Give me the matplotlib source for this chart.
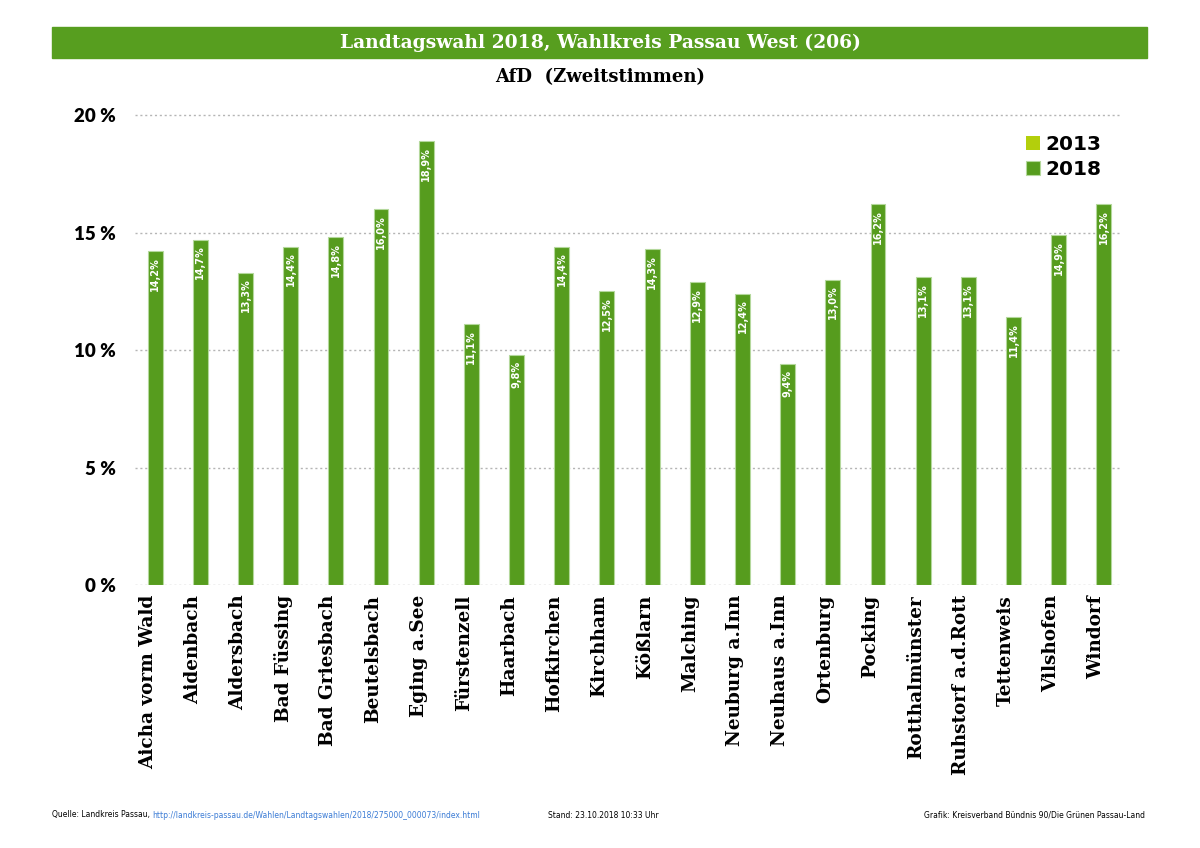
import numpy as np
import matplotlib.pyplot as plt
from matplotlib.patches import Rectangle

# data
orte = ['Aicha vorm Wald', 'Aidenbach', 'Aldersbach', 'Bad Füssing', 'Bad Griesbach',
        'Beutelsbach', 'Eging a.See', 'Fürstenzell', 'Haarbach', 'Hofkirchen', 'Kirchham',
        'Kößlarn', 'Malching', 'Neuburg a.Inn', 'Neuhaus a.Inn', 'Ortenburg', 'Pocking',
        'Rotthalmünster', 'Ruhstorf a.d.Rott', 'Tettenweis', 'Vilshofen', 'Windorf']
afd_2018 = [14.2, 14.7, 13.3, 14.4, 14.8, 16.0, 18.9, 11.1, 9.8, 14.4, 12.5,
            14.3, 12.9, 12.4, 9.4, 13.0, 16.2, 13.1, 13.1, 11.4, 14.9, 16.2]
afd_2013 = [0] * len(orte)  # no 2013 values shown
yticks = [0, 5, 10, 15, 20]

col_2013 = '#b3cf0c'
col_2018 = '#569c1e'

fig = plt.figure(figsize=(12, 8.48), dpi=100)
ax = fig.add_axes([0.1125, 0.3101, 0.8208, 0.5661])

x = np.arange(len(orte))
w = 0.33
ax.bar(x - w / 2, afd_2013, w, color=col_2013, label='2013')
bars = ax.bar(x + w / 2, afd_2018, w, color=col_2018, edgecolor='#b4d89c',
              linewidth=0.8, label='2018', zorder=3)

for b, v in zip(bars, afd_2018):
    ax.text(b.get_x() + b.get_width() / 2, v - 0.25, f'{v:.1f}%'.replace('.', ','),
            rotation=90, ha='center', va='top', color='white', fontsize=7,
            fontweight='bold', zorder=4)

ax.set_xlim(-0.28, len(orte) - 0.48)
ax.set_ylim(0, 20.43)
ax.set_yticks(yticks)
ax.set_yticklabels([f'{t} %' for t in yticks], fontsize=13.5, fontweight='heavy',
                   family='Lato')
ax.set_xticks(x)
ax.set_xticklabels(orte, rotation=90, fontsize=13.3, fontweight='bold',
                   family='DejaVu Serif')
ax.tick_params(axis='y', length=0, pad=14)
ax.tick_params(axis='x', length=0, pad=7)
ax.yaxis.grid(True, linestyle=(0, (1.5, 2)), color='#b5b5b5', linewidth=1)
ax.set_axisbelow(True)
for s in ax.spines.values():
    s.set_visible(False)

leg = ax.legend(loc='upper right', bbox_to_anchor=(1.0, 0.975), frameon=False,
                handlelength=0.7, handleheight=0.7, handletextpad=0.3,
                labelspacing=0.3, prop={'family': 'DejaVu Sans', 'weight': 'heavy', 'size': 14.5})

# title banner
fig.patches.append(Rectangle((52 / 1200, 1 - 58 / 848), 1095 / 1200, 31 / 848,
                             transform=fig.transFigure, color='#579e1f', zorder=0))
fig.text(0.5, 1 - 42.5 / 848, 'Landtagswahl 2018, Wahlkreis Passau West (206)',
         ha='center', va='center', color='white', fontsize=13.5, fontweight='heavy',
         family='DejaVu Serif')
fig.text(0.5, 1 - 77 / 848, 'AfD  (Zweitstimmen)', ha='center', va='center',
         fontsize=13, fontweight='heavy', family='DejaVu Serif')

# footer
q = fig.text(52 / 1200, 1 - 815 / 848, 'Quelle: Landkreis Passau, ', fontsize=5.5,
             va='center', family='Liberation Sans Narrow')
ax.annotate('http://landkreis-passau.de/Wahlen/Landtagswahlen/2018/275000_000073/index.html',
            xy=(1, 0.5), xycoords=q, va='center', ha='left', fontsize=5.5,
            color='#3a7bd5', family='Liberation Sans Narrow', annotation_clip=False)
fig.text(548 / 1200, 1 - 815 / 848, 'Stand: 23.10.2018 10:33 Uhr', fontsize=5.5,
         va='center', family='Liberation Sans Narrow')
fig.text(1145 / 1200, 1 - 815 / 848, 'Grafik: Kreisverband Bündnis 90/Die Grünen Passau-Land',
         fontsize=5.5, va='center', ha='right', family='Liberation Sans Narrow')

fig.savefig('out.png', dpi=100)
